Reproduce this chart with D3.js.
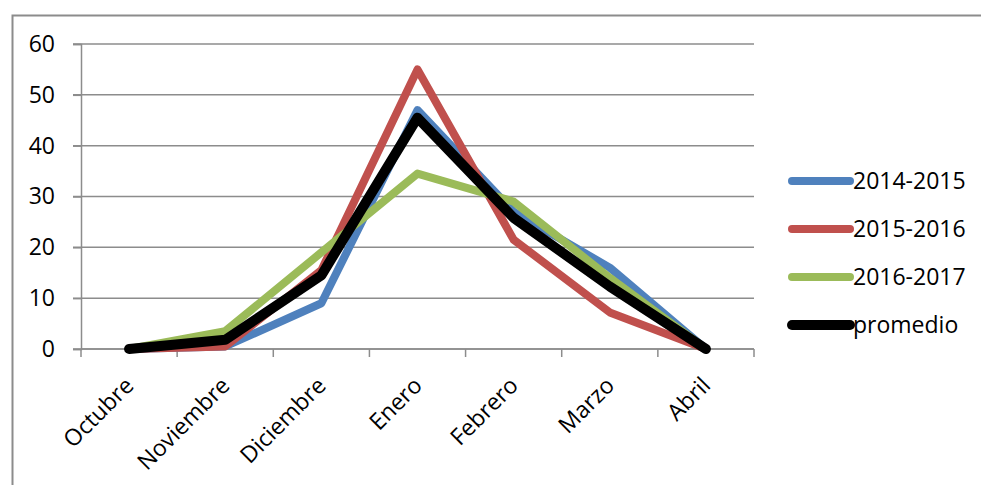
<!DOCTYPE html>
<html>
<head>
<meta charset="utf-8">
<script src="https://cdn.jsdelivr.net/npm/d3@7"></script>
<style>
  body { margin: 0; background: #fff; }
  text { font-family: "Open Sans", "DejaVu Sans", sans-serif; fill: #000; }
</style>
</head>
<body>
<svg id="chart" width="981" height="485"></svg>
<script>
const months = ["Octubre", "Noviembre", "Diciembre", "Enero", "Febrero", "Marzo", "Abril"];
const s2014 = [0, 0.5, 9, 47, 27, 16, 0];
const s2015 = [0, 0.5, 15.5, 55, 21.5, 7.2, 0];
const s2016 = [0, 3.5, 19, 34.5, 29, 14, 0];
const promedio = [0, 1.8, 14.5, 45.5, 25.8, 12.3, 0];
const seriesNames = ["2014-2015", "2015-2016", "2016-2017", "promedio"];
const yTicks = [0, 10, 20, 30, 40, 50, 60];

const COLORS = ["#4F81BD", "#C0504D", "#9BBB59", "#000000"];
const WIDTHS = [8, 8, 8, 10];
const GRID = "#8c8c8c";
const FONT = 23;

const svg = d3.select("#chart");

// outer frame (runs off the right and bottom edges)
svg.append("rect")
  .attr("x", 12.5).attr("y", 15.5)
  .attr("width", 1000).attr("height", 500)
  .attr("fill", "none")
  .attr("stroke", GRID)
  .attr("stroke-width", 2);

const plotLeft = 81, plotRight = 754, plotTop = 44, plotBottom = 349;

const x = d3.scaleBand().domain(months).range([plotLeft, plotRight]);
const y = d3.scaleLinear().domain([0, 60]).range([plotBottom, plotTop]);

// horizontal gridlines
svg.append("g")
  .selectAll("line")
  .data(yTicks)
  .enter()
  .append("line")
  .attr("x1", plotLeft - 8).attr("x2", plotRight)
  .attr("y1", d => y(d)).attr("y2", d => y(d))
  .attr("stroke", GRID)
  .attr("stroke-width", 1.5);

// y axis
const yAxis = svg.append("g")
  .attr("transform", `translate(${plotLeft},0)`)
  .call(d3.axisLeft(y).tickValues(yTicks).tickSize(8).tickPadding(18));
yAxis.select(".domain").attr("stroke", GRID).attr("stroke-width", 1.5);
yAxis.selectAll(".tick line").attr("stroke", GRID).attr("stroke-width", 1.5);
yAxis.selectAll("text").attr("font-size", FONT).style("font-family", "'Open Sans', sans-serif");

// x axis ticks at band edges
const edges = months.map(m => x(m)).concat([plotRight]);
svg.append("g")
  .selectAll("line")
  .data(edges)
  .enter()
  .append("line")
  .attr("x1", d => d).attr("x2", d => d)
  .attr("y1", plotBottom).attr("y2", plotBottom + 8)
  .attr("stroke", GRID)
  .attr("stroke-width", 1.5);

svg.append("line")
  .attr("x1", plotLeft).attr("x2", plotRight)
  .attr("y1", plotBottom).attr("y2", plotBottom)
  .attr("stroke", GRID)
  .attr("stroke-width", 1.5);

// month labels, rotated
svg.append("g")
  .selectAll("text")
  .data(months)
  .enter()
  .append("text")
  .attr("transform", d => `translate(${x(d) + x.bandwidth() / 2 + 6},${plotBottom + 38}) rotate(-45)`)
  .attr("text-anchor", "end")
  .attr("font-size", FONT)
  .text(d => d);

// lines
const allSeries = [s2014, s2015, s2016, promedio];
const line = d3.line()
  .x((d, i) => x(months[i]) + x.bandwidth() / 2)
  .y(d => y(d));

svg.append("g")
  .selectAll("path")
  .data(allSeries)
  .enter()
  .append("path")
  .attr("d", d => line(d))
  .attr("fill", "none")
  .attr("stroke", (d, i) => COLORS[i])
  .attr("stroke-width", (d, i) => WIDTHS[i])
  .attr("stroke-linejoin", "round")
  .attr("stroke-linecap", "round");

// legend
const legend = svg.append("g")
  .selectAll("g")
  .data(seriesNames)
  .enter()
  .append("g")
  .attr("transform", (d, i) => `translate(792,${181 + i * 48})`);

legend.append("line")
  .attr("x1", 0).attr("x2", 58)
  .attr("y1", 0).attr("y2", 0)
  .attr("stroke", (d, i) => COLORS[i])
  .attr("stroke-width", (d, i) => WIDTHS[i])
  .attr("stroke-linecap", "round");

legend.append("text")
  .attr("x", 61)
  .attr("dy", "0.35em")
  .attr("font-size", FONT)
  .text(d => d);
</script>
</body>
</html>
